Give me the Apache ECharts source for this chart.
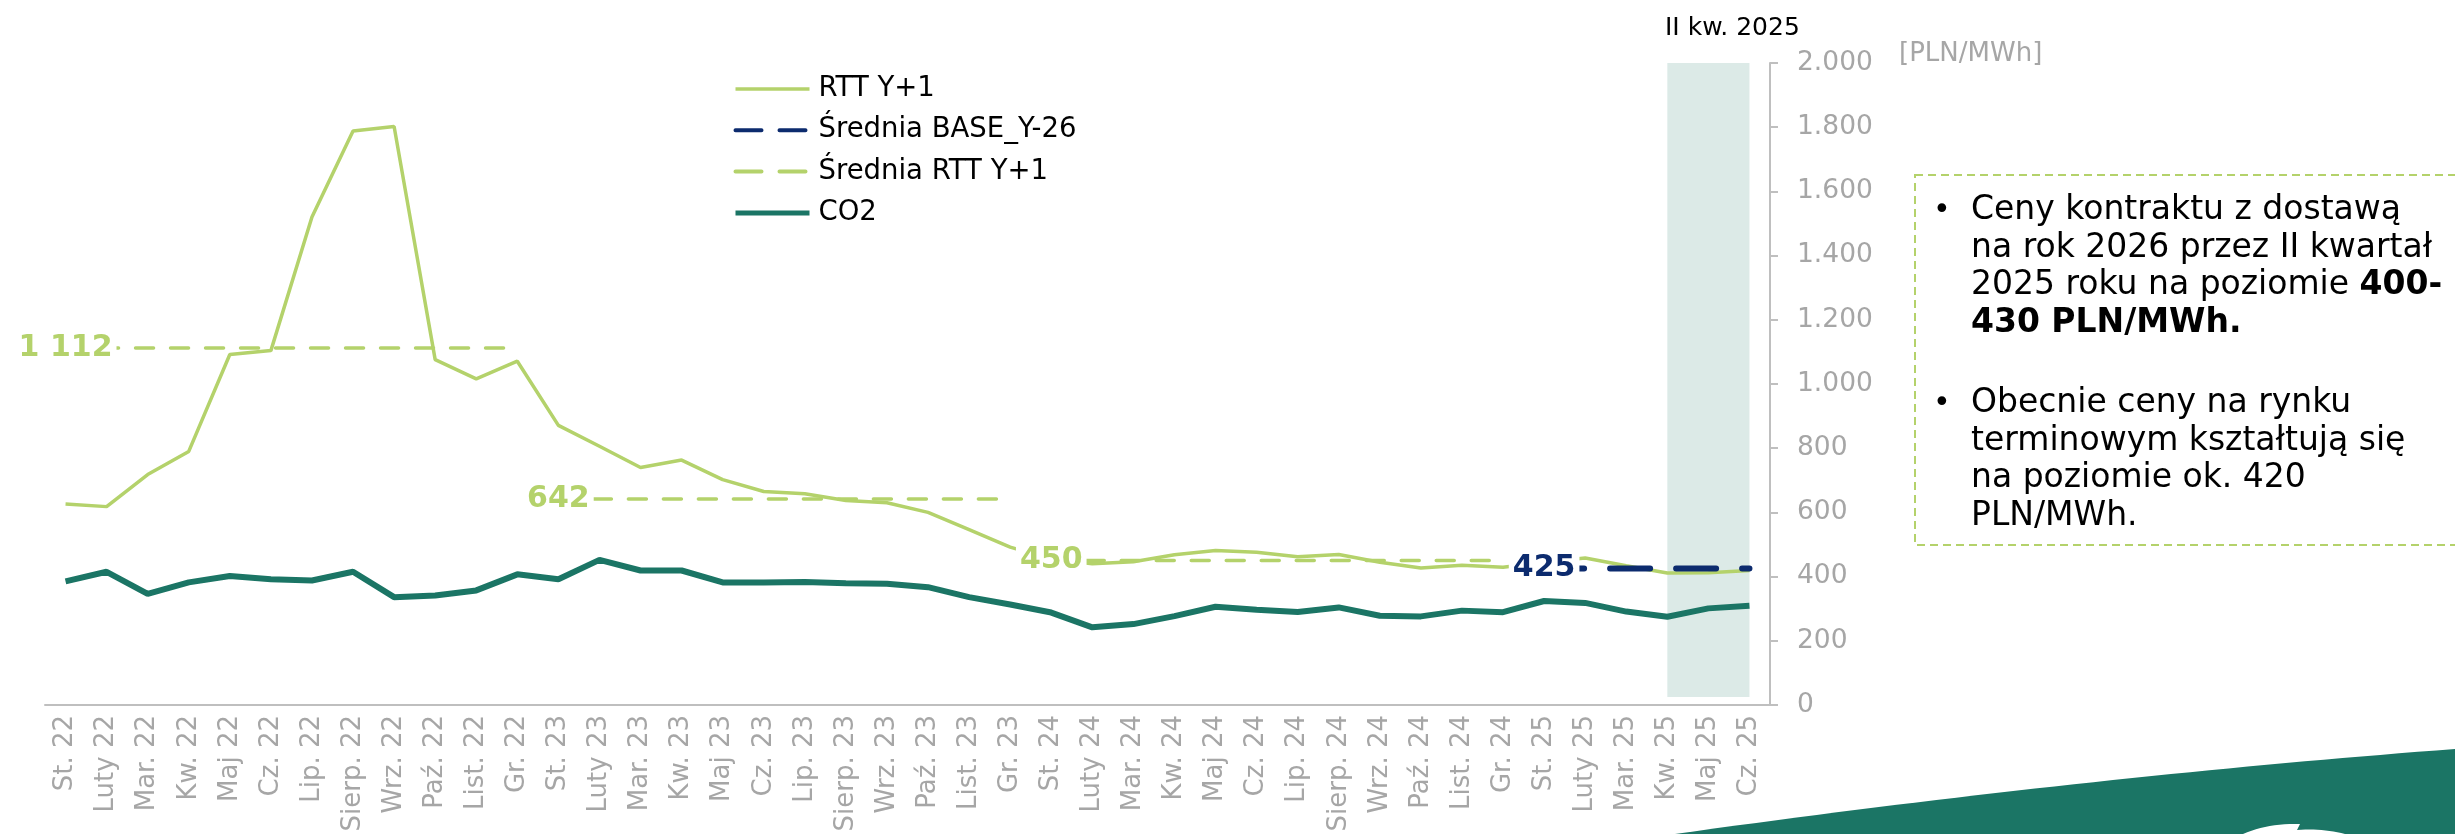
<!DOCTYPE html>
<html><head><meta charset="utf-8">
<script src="https://cdn.jsdelivr.net/npm/echarts@6.0.0/dist/echarts.min.js"></script>
<style>html,body{margin:0;padding:0;background:#fff}#c{width:2455px;height:834px}</style>
</head><body><div id="c"></div>
<script>
const categories = ['St. 22','Luty 22','Mar. 22','Kw. 22','Maj 22','Cz. 22','Lip. 22','Sierp. 22','Wrz. 22','Paź. 22','List. 22','Gr. 22',
  'St. 23','Luty 23','Mar. 23','Kw. 23','Maj 23','Cz. 23','Lip. 23','Sierp. 23','Wrz. 23','Paź. 23','List. 23','Gr. 23',
  'St. 24','Luty 24','Mar. 24','Kw. 24','Maj 24','Cz. 24','Lip. 24','Sierp. 24','Wrz. 24','Paź. 24','List. 24','Gr. 24',
  'St. 25','Luty 25','Mar. 25','Kw. 25','Maj 25','Cz. 25'];
const rttY1 = [626, 618, 718, 790, 1092, 1104, 1520, 1788, 1802, 1076, 1016, 1071,
  871, 806, 740, 763, 702, 665, 658, 637, 630, 600, 546, 492,
  455, 440, 446, 468, 481, 476, 462, 469, 445, 427, 435, 429,
  445, 458, 434, 411, 412, 419];
const co2 = [385, 415, 346, 382, 402, 392, 388, 415, 336, 341, 357, 407,
  392, 452, 419, 419, 382, 382, 383, 379, 378, 367, 336, 313,
  288, 242, 252, 277, 306, 297, 290, 304, 278, 276, 294, 289,
  324, 318, 291, 275, 301, 309];
const avgRttValues = [1112, 642, 450];
const avgRttPeriods = [['St. 22','Gr. 22'], ['St. 23','Gr. 23'], ['St. 24','Gr. 24']];
const avgBaseValue = 425;
const avgBasePeriod = ['St. 25','Cz. 25'];
const highlightPeriod = ['Kw. 25','Cz. 25'];
const highlightLabel = 'II kw. 2025';
const yMin = 0, yMax = 2000, yStep = 200;
const unitLabel = '[PLN/MWh]';
const noteBlock1 = 'Ceny kontraktu z dostawą\nna rok 2026 przez II kwartał\n2025 roku na poziomie {b|400-}\n{b|430 PLN/MWh.}';
const noteBlock2 = 'Obecnie ceny na rynku\nterminowym kształtują się\nna poziomie ok. 420\nPLN/MWh.';

const FONT = "'DejaVu Sans', Verdana, sans-serif";
const GREEN = '#b4d26b', NAVY = '#0c2b6e', TEAL = '#1b7565', GREY = '#a6a6a6', AXIS = '#bfbfbf';

function segment(value, period) {
  const a = categories.indexOf(period[0]), b = categories.indexOf(period[1]);
  return categories.map((c, i) => (i >= a && i <= b) ? value : '-');
}
function dotThousands(v) { return v >= 1000 ? Math.floor(v / 1000) + '.' + String(v % 1000).padStart(3, '0') : String(v); }
function spaceThousands(v) { return v >= 1000 ? Math.floor(v / 1000) + ' ' + String(v % 1000).padStart(3, '0') : String(v); }
// decorative quadratic curve sampled into polygon points
function quadPoints(p0, p1, p2, n) {
  const pts = [];
  for (let i = 0; i <= n; i++) {
    const t = i / n, u = 1 - t;
    pts.push([u * u * p0[0] + 2 * u * t * p1[0] + t * t * p2[0], u * u * p0[1] + 2 * u * t * p1[1] + t * t * p2[1]]);
  }
  return pts;
}
const decoPts = quadPoints([1675, 834], [2083, 777], [2455, 749], 40).concat([[2455, 834]]);
const swooshPts = quadPoints([2243, 834], [2268, 823], [2300, 824], 12)
  .concat([[2297, 830]]).concat(quadPoints([2297, 830], [2322, 828], [2345, 834], 12));

const avgRttSeries = avgRttValues.map((v, k) => ({
  name: 'Średnia RTT Y+1', type: 'line', data: segment(v, avgRttPeriods[k]),
  symbol: 'none', z: 3, silent: true,
  lineStyle: { color: GREEN, width: 3.5, type: [18, 17], cap: 'round' },
  itemStyle: { color: GREEN }
}));

const labelItems = avgRttValues.map((v, k) => ({ value: [avgRttPeriods[k][0], v], label: { color: GREEN } }))
  .concat([{ value: [avgBasePeriod[0], avgBaseValue], label: { color: NAVY } }]);

const hiddenSymbol = { opacity: 0 };

const chart = echarts.init(document.getElementById('c'), null, { renderer: 'canvas' });
chart.setOption({
  animation: false,
  backgroundColor: '#fff',
  grid: { left: 45, right: 685, top: 63, bottom: 129, containLabel: false, outerBoundsMode: 'none' },
  legend: {
    orient: 'vertical', left: 728, top: 70, itemWidth: 74, itemHeight: 14, itemGap: 13.3,
    selectedMode: false,
    textStyle: { fontSize: 27.5, color: '#000', fontFamily: FONT, padding: [0, 0, 0, 4] },
    data: [
      { name: 'RTT Y+1', itemStyle: hiddenSymbol, lineStyle: { width: 3.5 } },
      { name: 'Średnia BASE_Y-26', itemStyle: hiddenSymbol, lineStyle: { width: 4, type: [26, 18], cap: 'round' } },
      { name: 'Średnia RTT Y+1', itemStyle: hiddenSymbol, lineStyle: { width: 4, type: [26, 18], cap: 'round' } },
      { name: 'CO2', itemStyle: hiddenSymbol, lineStyle: { width: 5 } }
    ]
  },
  xAxis: {
    type: 'category', data: categories, boundaryGap: true,
    axisLine: { show: true, lineStyle: { color: AXIS, width: 2 } },
    axisTick: { show: false },
    axisLabel: { rotate: 90, interval: 0, margin: 10, fontSize: 26, color: GREY, fontFamily: FONT },
    splitLine: { show: false }
  },
  yAxis: {
    type: 'value', position: 'right', min: yMin, max: yMax, interval: yStep,
    axisLine: { show: true, lineStyle: { color: AXIS, width: 2 } },
    axisTick: { show: true, length: 8, lineStyle: { color: AXIS, width: 2 } },
    axisLabel: { margin: 27, fontSize: 26.5, color: GREY, fontFamily: FONT, formatter: dotThousands },
    splitLine: { show: false }
  },
  series: [
    {
      name: 'RTT Y+1', type: 'line', data: rttY1, symbol: 'none', z: 2, silent: true,
      lineStyle: { color: GREEN, width: 3.5 }, itemStyle: { color: GREEN }
    },
    {
      name: 'Średnia BASE_Y-26', type: 'line', data: segment(avgBaseValue, avgBasePeriod),
      symbol: 'none', z: 4, silent: true,
      lineStyle: { color: NAVY, width: 6, type: [40, 26], cap: 'round' }, itemStyle: { color: NAVY }
    },
    ...avgRttSeries,
    {
      name: 'CO2', type: 'line', data: co2, symbol: 'none', z: 2, silent: true,
      lineStyle: { color: TEAL, width: 6 }, itemStyle: { color: TEAL },
      markArea: {
        silent: true,
        itemStyle: { color: '#dceae7' },
        label: { show: true, position: 'top', distance: 22, offset: [24, 0], color: '#000', fontSize: 25, fontFamily: FONT },
        data: [[{ name: highlightLabel, xAxis: highlightPeriod[0], yAxis: 25 }, { xAxis: highlightPeriod[1], yAxis: yMax }]]
      }
    },
    {
      name: 'avgLabels', type: 'scatter', data: labelItems, symbolSize: 1, z: 10, silent: true,
      itemStyle: { color: 'rgba(0,0,0,0)', opacity: 1 },
      emphasis: { disabled: true },
      label: {
        show: true, position: 'inside', formatter: p => spaceThousands(p.value[1]), opacity: 1,
        backgroundColor: '#fff', padding: [2, 4], fontWeight: 'bold', fontSize: 30, fontFamily: FONT
      }
    }
  ],
  graphic: [
    { type: 'text', x: 1899, y: 54, silent: true,
      style: { text: unitLabel, fontSize: 26, fontFamily: FONT, fill: GREY, textAlign: 'left', textVerticalAlign: 'middle' } },
    { type: 'rect', silent: true, shape: { x: 1915, y: 175, width: 600, height: 370 },
      style: { fill: 'none', stroke: GREEN, lineWidth: 2, lineDash: [8, 5] } },
    { type: 'text', x: 1933, y: 192, silent: true,
      style: { text: '•', fontSize: 30, fontFamily: FONT, fill: '#000', lineHeight: 37.5, textVerticalAlign: 'top' } },
    { type: 'text', x: 1971, y: 192, silent: true,
      style: { text: noteBlock1, fontSize: 33, fontFamily: FONT, fill: '#000', lineHeight: 37.5, textVerticalAlign: 'top',
        rich: { b: { fontWeight: 'bold', fontSize: 33, fontFamily: FONT, lineHeight: 37.5 } } } },
    { type: 'text', x: 1933, y: 385, silent: true,
      style: { text: '•', fontSize: 30, fontFamily: FONT, fill: '#000', lineHeight: 37.5, textVerticalAlign: 'top' } },
    { type: 'text', x: 1971, y: 385, silent: true,
      style: { text: noteBlock2, fontSize: 33, fontFamily: FONT, fill: '#000', lineHeight: 37.5, textVerticalAlign: 'top' } },
    { type: 'polygon', silent: true, shape: { points: decoPts }, style: { fill: TEAL } },
    { type: 'polygon', silent: true, shape: { points: swooshPts }, style: { fill: '#fff' } }
  ]
});
</script>
</body></html>
